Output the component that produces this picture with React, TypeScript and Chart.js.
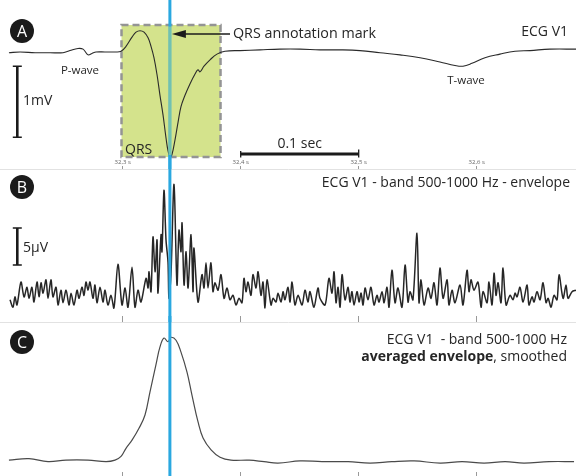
import React, { useEffect, useRef } from "react";
import { Chart, registerables } from "chart.js";

Chart.register(...registerables);

// ---------------- data ----------------
const segmentStartS = 32.2; // time offsets below are in ms after this instant
const tickSeconds = [32.3, 32.4, 32.5, 32.6];
const qrsMarkS = 32.34;
const qrsWindowS = [32.299, 32.3829];
const qrsWindowMv = [0.38, -1.48];
const timeBarS = [32.4, 32.5];
const voltBarMv = [-0.2, -1.2];
const envBarUv = [7.7, 12.7];

// Panel A: ECG V1 (mV)
const ecgTimeMs = [3.6, 13.0, 25.7, 38.4, 49.4, 55.3, 62.1, 66.4, 70.6, 74.0, 77.4, 85.0, 93.5, 98.6, 102.8,
  107.9, 111.3, 114.7, 118.1, 121.5, 124.0, 126.5, 129.1, 131.6, 134.2, 136.7, 138.4, 140.1, 141.8, 144.3,
  146.9, 149.4, 152.8, 157.0, 161.3, 163.8, 165.5, 168.9, 174.0, 179.9, 186.7, 199.4, 216.4, 233.3, 250.3,
  267.2, 284.2, 301.1, 318.1, 335.0, 352.0, 368.9, 381.6, 388.4, 396.0, 407.0, 419.7, 432.5, 445.2, 462.1, 484.2];
const ecgMv = [-0.01, 0.0, -0.01, -0.01, -0.01, 0.02, 0.05, 0.04, -0.04, -0.02, 0.0, 0.0, 0.0, 0.01, 0.08,
  0.21, 0.28, 0.30, 0.28, 0.20, 0.08, -0.08, -0.32, -0.61, -0.89, -1.21, -1.39, -1.48, -1.44, -1.24,
  -0.99, -0.77, -0.61, -0.45, -0.31, -0.25, -0.28, -0.20, -0.11, -0.03, 0.01, 0.02, 0.03, 0.04, 0.04,
  0.03, 0.03, 0.02, -0.01, -0.04, -0.08, -0.14, -0.19, -0.20, -0.16, -0.08, -0.03, 0.01, 0.02, 0.04, 0.04];

// Panel B: band 500-1000 Hz envelope (uV)
const envTimeMs = [
  4.5, 7.0, 8.7, 10.4, 13.8, 16.4, 18.9, 20.6, 23.1, 24.8,
  27.4, 29.1, 30.8, 32.5, 35.0, 36.7, 39.2, 40.9, 43.5, 45.2,
  47.7, 49.4, 52.0, 54.5, 56.2, 58.7, 61.3, 63.0, 65.5, 67.2,
  68.9, 70.6, 72.3, 74.8, 76.5, 78.2, 80.8, 83.3, 85.0, 87.5,
  90.1, 92.6, 96.0, 99.4, 102.0, 104.5, 107.9, 110.4, 113.0, 115.5,
  119.8, 121.5, 122.3, 124.0, 125.7, 127.4, 129.1, 129.9, 132.5, 133.3,
  135.0, 136.7, 138.4, 139.2, 140.9, 143.5, 146.0, 147.7, 149.4, 150.3,
  152.0, 153.7, 155.4, 157.9, 159.6, 160.4, 163.8, 167.2, 168.9, 170.6,
  172.3, 174.8, 176.5, 178.2, 180.8, 183.3, 185.9, 188.4, 190.9, 193.5,
  196.0, 198.6, 201.1, 202.8, 204.5, 206.2, 208.7, 210.4, 213.0, 214.7,
  217.2, 218.9, 220.6, 222.3, 225.7, 227.4, 229.9, 231.6, 234.2, 235.9,
  237.5, 240.1, 241.8, 243.5, 246.0, 248.6, 252.0, 254.5, 257.0, 258.7,
  262.1, 265.5, 267.2, 271.5, 274.8, 277.4, 279.1, 280.8, 282.5, 284.2,
  285.9, 288.4, 291.0, 292.6, 294.3, 296.0, 298.6, 300.3, 302.0, 303.7,
  305.4, 307.9, 310.4, 313.0, 315.5, 317.2, 319.8, 321.5, 324.0, 325.7,
  328.2, 330.8, 333.3, 336.7, 339.3, 341.8, 343.5, 346.0, 349.4, 351.1,
  352.8, 355.4, 358.8, 361.3, 363.8, 366.4, 368.9, 371.5, 374.9, 376.5,
  379.1, 381.6, 385.9, 388.4, 391.8, 393.5, 395.2, 397.7, 401.1, 403.7,
  405.4, 408.8, 410.4, 413.0, 414.7, 416.4, 418.1, 420.6, 422.3, 424.9,
  428.2, 430.8, 432.5, 434.2, 436.7, 439.3, 442.7, 444.3, 446.9, 448.6,
  451.1, 453.7, 456.2, 458.8, 460.5, 463.0, 465.5, 468.1, 469.8, 473.2,
  475.7, 477.4, 480.8, 484.2];
const envUv = [
  3.0, 2.0, 3.4, 2.3, 5.4, 3.4, 4.7, 3.2, 4.7, 2.7,
  5.4, 3.4, 5.3, 3.9, 5.7, 3.2, 5.7, 3.4, 4.7, 2.3,
  4.3, 2.6, 4.3, 2.3, 3.9, 2.3, 4.3, 3.2, 4.7, 3.6,
  5.4, 4.3, 5.4, 3.2, 5.0, 2.6, 4.7, 2.7, 4.3, 2.3,
  3.6, 1.9, 7.8, 2.3, 4.6, 2.0, 7.4, 2.0, 4.3, 2.7,
  5.9, 4.6, 6.8, 4.1, 11.5, 6.8, 11.1, 3.9, 11.8, 9.5,
  17.8, 11.1, 8.1, 3.2, 6.4, 18.6, 5.0, 12.4, 9.5, 13.4,
  5.0, 9.5, 4.6, 11.8, 4.1, 10.0, 2.7, 6.4, 4.6, 8.0,
  4.6, 8.0, 4.1, 5.3, 4.3, 6.4, 3.2, 4.6, 3.0, 3.6,
  2.3, 3.2, 2.6, 5.9, 4.1, 5.4, 3.6, 6.4, 4.6, 6.8,
  3.6, 5.4, 1.9, 5.7, 2.3, 3.2, 2.7, 3.9, 2.7, 4.1,
  3.0, 4.7, 2.7, 5.4, 2.3, 3.6, 2.3, 4.3, 2.7, 4.1,
  2.0, 4.6, 3.2, 2.3, 5.9, 3.9, 6.8, 2.6, 4.7, 2.0,
  6.4, 3.0, 4.7, 2.7, 4.1, 2.3, 4.1, 2.7, 3.9, 2.3,
  4.6, 3.0, 4.7, 2.3, 3.6, 2.7, 4.1, 2.6, 4.7, 2.0,
  7.0, 2.6, 4.6, 2.0, 7.7, 2.7, 4.1, 3.0, 12.0, 2.6,
  5.7, 2.3, 4.6, 3.2, 5.3, 2.3, 7.3, 3.2, 5.7, 2.3,
  4.3, 2.6, 5.0, 2.3, 7.0, 4.1, 5.7, 4.3, 5.4, 2.0,
  4.1, 2.6, 5.4, 2.3, 6.6, 3.6, 5.3, 2.6, 7.3, 2.3,
  3.6, 3.0, 3.9, 3.4, 4.7, 2.7, 5.0, 2.3, 3.4, 2.7,
  4.1, 3.0, 5.3, 2.6, 3.2, 2.0, 3.6, 3.0, 6.4, 3.2,
  5.0, 3.2, 4.1, 4.3];

// Panel C: averaged envelope, smoothed (uV)
const avgTimeMs = [3.6, 20.6, 36.7, 51.9, 70.6, 85.9, 93.5, 98.6, 102.8, 107.9,
  113.8, 118.9, 123.1, 128.2, 131.6, 135.0, 138.4, 140.9, 145.2, 149.4,
  154.5, 158.7, 163.8, 168.1, 174.9, 182.5, 191.8, 207.1, 219.8, 231.6,
  250.3, 268.9, 291.0, 309.6, 328.2, 346.9, 369.0, 387.6, 406.2, 424.0,
  440.1, 461.3, 482.5];
const avgUv = [1.6, 1.8, 1.4, 1.6, 1.6, 1.4, 1.6, 2.1, 3.2, 4.3,
  5.9, 7.7, 10.8, 14.5, 16.9, 18.1, 17.6, 18.2, 17.8, 16.2,
  13.5, 10.4, 6.8, 4.6, 3.0, 2.0, 1.6, 1.6, 1.4, 1.2,
  1.5, 1.4, 1.4, 1.2, 1.4, 1.5, 1.2, 1.4, 1.2, 1.4,
  1.2, 1.4, 1.4];

// ---------------- layout / style ----------------
const W = 576;
const X_MIN = 32.19602;
const X_MAX = 32.68416;
const A_TOP = 0, A_H = 169;
const B_TOP = 155, B_H = 167;
const C_TOP = 316, C_H = 160;
const FONT = "'Open Sans', 'DejaVu Sans', sans-serif";
const TXT = "#262626";
const BLUE = "#2aa8e0";
const FS = 14;

const series = (tms: number[], vals: number[]) =>
  tms.map((t, i) => ({ x: segmentStartS + t / 1000, y: vals[i] }));

const fixedTicks = (scale: any) => {
  scale.ticks = tickSeconds.map((v) => ({ value: v }));
};

function text(ctx: CanvasRenderingContext2D, s: string, x: number, y: number, size: number,
  align: CanvasTextAlign = "left", weight = "normal") {
  ctx.save();
  ctx.fillStyle = TXT;
  ctx.font = `${weight} ${size}px ${FONT}`;
  ctx.textAlign = align;
  ctx.textBaseline = "middle";
  ctx.fillText(s, x, y);
  ctx.restore();
}

function badge(ctx: CanvasRenderingContext2D, cx: number, cy: number, letter: string) {
  ctx.save();
  ctx.fillStyle = "#1b1b1b";
  ctx.beginPath();
  ctx.arc(cx, cy, 12, 0, Math.PI * 2);
  ctx.fill();
  ctx.fillStyle = "#ffffff";
  ctx.font = `16px ${FONT}`;
  ctx.textAlign = "center";
  ctx.textBaseline = "middle";
  ctx.fillText(letter, cx, cy + 1);
  ctx.restore();
}

function markLine(chart: any) {
  const { ctx } = chart;
  const x = chart.scales.x.getPixelForValue(qrsMarkS);
  ctx.save();
  ctx.strokeStyle = BLUE;
  ctx.lineWidth = 3;
  ctx.beginPath();
  ctx.moveTo(x, 0);
  ctx.lineTo(x, chart.height);
  ctx.stroke();
  ctx.restore();
  return x;
}

function vBar(ctx: CanvasRenderingContext2D, x: number, y0: number, y1: number) {
  ctx.save();
  ctx.strokeStyle = "#1b1b1b";
  ctx.lineWidth = 2.6;
  ctx.beginPath();
  ctx.moveTo(x, y0);
  ctx.lineTo(x, y1);
  ctx.stroke();
  ctx.lineWidth = 1.6;
  ctx.beginPath();
  ctx.moveTo(x - 4.5, y0);
  ctx.lineTo(x + 4.5, y0);
  ctx.moveTo(x - 4.5, y1);
  ctx.lineTo(x + 4.5, y1);
  ctx.stroke();
  ctx.restore();
}

const annotA = {
  id: "annotA",
  beforeDatasetsDraw(chart: any) {
    const { ctx } = chart;
    const { x, y } = chart.scales;
    const x0 = x.getPixelForValue(qrsWindowS[0]);
    const x1 = x.getPixelForValue(qrsWindowS[1]);
    const y0 = y.getPixelForValue(qrsWindowMv[0]);
    const y1 = y.getPixelForValue(qrsWindowMv[1]);
    ctx.save();
    ctx.fillStyle = "#d4e38c";
    ctx.fillRect(x0, y0, x1 - x0, y1 - y0);
    ctx.setLineDash([7, 4]);
    ctx.lineWidth = 2.5;
    ctx.strokeStyle = "#949494";
    ctx.strokeRect(x0, y0, x1 - x0, y1 - y0);
    ctx.restore();
  },
  afterDatasetsDraw(chart: any) {
    const { ctx } = chart;
    const { x, y } = chart.scales;
    const mx = markLine(chart);
    const y0 = y.getPixelForValue(qrsWindowMv[0]);
    const y1 = y.getPixelForValue(qrsWindowMv[1]);
    ctx.save();
    ctx.fillStyle = "rgba(200,225,120,0.45)";
    ctx.fillRect(mx - 1.5, y0 + 1.5, 3, y1 - y0 - 3);
    ctx.restore();
    // arrow
    ctx.save();
    ctx.strokeStyle = "#1b1b1b";
    ctx.fillStyle = "#1b1b1b";
    ctx.lineWidth = 1.4;
    ctx.beginPath();
    ctx.moveTo(230, 34);
    ctx.lineTo(184, 34);
    ctx.stroke();
    ctx.beginPath();
    ctx.moveTo(mx + 2, 34);
    ctx.lineTo(mx + 16, 30);
    ctx.lineTo(mx + 16, 38);
    ctx.closePath();
    ctx.fill();
    ctx.restore();
    text(ctx, "QRS annotation mark", 233, 34, FS + 0.3);
    text(ctx, "ECG V1", 568, 32, FS, "right");
    text(ctx, "P-wave", 80, 71, 11.5, "center");
    text(ctx, "T-wave", 466, 81, 11.5, "center");
    text(ctx, "QRS", 125, 150, 14);
    vBar(ctx, 17.3, y.getPixelForValue(voltBarMv[0]), y.getPixelForValue(voltBarMv[1]));
    text(ctx, "1mV", 23, 101, FS);
    const tx0 = x.getPixelForValue(timeBarS[0]);
    const tx1 = x.getPixelForValue(timeBarS[1]);
    ctx.save();
    ctx.strokeStyle = "#1b1b1b";
    ctx.lineWidth = 3;
    ctx.beginPath();
    ctx.moveTo(tx0, 154);
    ctx.lineTo(tx1, 154);
    ctx.stroke();
    ctx.lineWidth = 1.3;
    ctx.beginPath();
    ctx.moveTo(tx0, 151);
    ctx.lineTo(tx0, 157.5);
    ctx.moveTo(tx1, 149.5);
    ctx.lineTo(tx1, 157.5);
    ctx.stroke();
    ctx.restore();
    text(ctx, "0.1 sec", (tx0 + tx1) / 2, 144, FS, "center");
    badge(ctx, 22, 31 - A_TOP, "A");
  },
};

const annotB = {
  id: "annotB",
  afterDatasetsDraw(chart: any) {
    const { ctx } = chart;
    const { y } = chart.scales;
    markLine(chart);
    vBar(ctx, 17.3, y.getPixelForValue(envBarUv[1]), y.getPixelForValue(envBarUv[0]));
    text(ctx, "5µV", 23, 248 - B_TOP, FS);
    text(ctx, "ECG V1 - band 500-1000 Hz - envelope", 570, 183 - B_TOP, FS, "right");
    badge(ctx, 22, 187 - B_TOP, "B");
  },
};

const annotC = {
  id: "annotC",
  afterDatasetsDraw(chart: any) {
    const { ctx } = chart;
    markLine(chart);
    text(ctx, "ECG V1  - band 500-1000 Hz", 567, 340 - C_TOP, FS, "right");
    ctx.save();
    ctx.font = `normal ${FS}px ${FONT}`;
    const tail = ", smoothed";
    const wTail = ctx.measureText(tail).width;
    ctx.restore();
    text(ctx, tail, 567, 357 - C_TOP, FS, "right");
    text(ctx, "averaged envelope", 567 - wTail, 357 - C_TOP, FS, "right", "bold");
    badge(ctx, 22, 342 - C_TOP, "C");
  },
};

const baseOptions = {
  animation: false as const,
  responsive: false,
  devicePixelRatio: 1,
  layout: { padding: 0 },
  events: [] as any[],
  plugins: { legend: { display: false }, tooltip: { enabled: false } },
};

const tickLabel = (v: any) => Number(v).toFixed(1).replace(".", ",") + " s";

export default function App() {
  const aRef = useRef<HTMLCanvasElement>(null);
  const bRef = useRef<HTMLCanvasElement>(null);
  const cRef = useRef<HTMLCanvasElement>(null);

  useEffect(() => {
    document.body.style.margin = "0";
    Chart.defaults.font.family = FONT;

    const chartA = new Chart(aRef.current as HTMLCanvasElement, {
      type: "line",
      data: {
        datasets: [{
          data: series(ecgTimeMs, ecgMv),
          borderColor: "#2a2a2a",
          borderWidth: 1.1,
          pointRadius: 0,
          tension: 0.4,
        }],
      },
      options: {
        ...baseOptions,
        scales: {
          x: { type: "linear", display: false, min: X_MIN, max: X_MAX },
          y: { type: "linear", display: false, min: -1.648, max: 0.7324 },
        },
      },
      plugins: [annotA],
    } as any);

    const chartB = new Chart(bRef.current as HTMLCanvasElement, {
      type: "line",
      data: {
        datasets: [{
          data: series(envTimeMs, envUv),
          borderColor: "#262626",
          borderWidth: 1.5,
          pointRadius: 0,
          tension: 0.3,
        }],
      },
      options: {
        ...baseOptions,
        scales: {
          x: {
            type: "linear", position: "top", min: X_MIN, max: X_MAX,
            afterBuildTicks: fixedTicks,
            afterFit: (s: any) => { s.height = 14; },
            ticks: { font: { size: 6 }, color: "#666", padding: 0, maxRotation: 0, autoSkip: false, callback: tickLabel },
            grid: { drawOnChartArea: false, drawTicks: true, tickLength: 3, color: "#999" },
            border: { display: true, color: "#e2e2e2" },
          },
          y: { type: "linear", display: false, min: 0, max: 20.68 },
        },
      },
      plugins: [annotB],
    } as any);

    const chartC = new Chart(cRef.current as HTMLCanvasElement, {
      type: "line",
      data: {
        datasets: [{
          data: series(avgTimeMs, avgUv),
          borderColor: "#4a4a4a",
          borderWidth: 1.2,
          pointRadius: 0,
          tension: 0.4,
        }],
      },
      options: {
        ...baseOptions,
        scales: {
          x: {
            type: "linear", position: "top", min: X_MIN, max: X_MAX,
            afterBuildTicks: fixedTicks,
            afterFit: (s: any) => { s.height = 6; },
            ticks: { display: false },
            grid: { drawOnChartArea: false, drawTicks: true, tickLength: 6, color: "#999" },
            border: { display: true, color: "#e2e2e2" },
          },
          x2: {
            type: "linear", position: "bottom", min: X_MIN, max: X_MAX,
            afterBuildTicks: fixedTicks,
            afterFit: (s: any) => { s.height = 4; },
            ticks: { display: false },
            grid: { drawOnChartArea: false, drawTicks: true, tickLength: 4, color: "#999" },
            border: { display: false },
          },
          y: { type: "linear", display: false, min: 0, max: 20.27 },
        },
      },
      plugins: [annotC],
    } as any);

    return () => {
      chartA.destroy();
      chartB.destroy();
      chartC.destroy();
    };
  }, []);

  return (
    <div style={{ position: "absolute", left: 0, top: 0, width: W, height: 476, background: "#ffffff", overflow: "hidden" }}>
      <canvas ref={aRef} width={W} height={A_H} style={{ position: "absolute", left: 0, top: A_TOP }} />
      <canvas ref={bRef} width={W} height={B_H} style={{ position: "absolute", left: 0, top: B_TOP }} />
      <canvas ref={cRef} width={W} height={C_H} style={{ position: "absolute", left: 0, top: C_TOP }} />
    </div>
  );
}
